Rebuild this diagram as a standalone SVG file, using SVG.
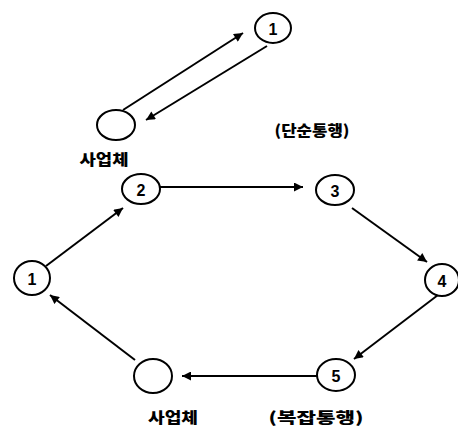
<svg xmlns="http://www.w3.org/2000/svg" width="458" height="430" viewBox="0 0 458 430">
<defs>
<marker id="ah" viewBox="0 0 10 10" refX="10" refY="5" markerWidth="11" markerHeight="9" markerUnits="userSpaceOnUse" orient="auto">
<path d="M0,0 L10,5 L0,10 z" fill="#000"/>
</marker>
<style>
.n{fill:#fff;stroke:#000;stroke-width:2}
.t{font-family:"Liberation Sans",Arial,sans-serif;font-weight:bold;font-size:16px;text-anchor:middle;dominant-baseline:central}
.k{font-family:"Noto Sans CJK KR",sans-serif;font-weight:900;font-size:15px;text-anchor:middle}
.c{stroke:#000;stroke-width:2;fill:none;marker-end:url(#ah)}
</style>
</defs>
<rect width="458" height="430" fill="#fff"/>
<g id="connectors">
<line class="c" x1="123" y1="110" x2="243" y2="33"/>
<line class="c" x1="267" y1="46" x2="146" y2="120"/>
<line class="c" x1="46" y1="266" x2="123" y2="208"/>
<line class="c" x1="160" y1="187" x2="303" y2="187"/>
<line class="c" x1="352" y1="208" x2="427" y2="262"/>
<line class="c" x1="438" y1="295" x2="354" y2="359"/>
<line class="c" x1="317" y1="376" x2="182" y2="376"/>
<line class="c" x1="135" y1="360" x2="50" y2="295"/>
</g>
<g id="top1"><ellipse class="n" cx="273" cy="28" rx="18" ry="15"/><text class="t" x="273" y="29">1</text></g>
<g id="top-biz"><ellipse class="n" cx="116" cy="125" rx="19" ry="15"/><text class="k" x="104" y="165" textLength="49" lengthAdjust="spacingAndGlyphs">사업체</text></g>
<g id="label-simple"><text class="k" x="312" y="136" textLength="75" lengthAdjust="spacingAndGlyphs">(단순통행)</text></g>
<g id="n2"><ellipse class="n" cx="141" cy="189" rx="19" ry="15"/><text class="t" x="141" y="190">2</text></g>
<g id="n3"><ellipse class="n" cx="335" cy="190" rx="19" ry="15"/><text class="t" x="335" y="191">3</text></g>
<g id="n1"><ellipse class="n" cx="32" cy="278" rx="18" ry="17"/><text class="t" x="32" y="279">1</text></g>
<g id="n4"><ellipse class="n" cx="442" cy="280" rx="17" ry="16"/><text class="t" x="442" y="281">4</text></g>
<g id="n5"><ellipse class="n" cx="336" cy="375" rx="19" ry="16"/><text class="t" x="336" y="376">5</text></g>
<g id="bottom-biz"><ellipse class="n" cx="153" cy="376" rx="19" ry="17"/><text class="k" x="173" y="423" textLength="50" lengthAdjust="spacingAndGlyphs">사업체</text></g>
<g id="label-complex"><text class="k" x="316" y="423" textLength="95" lengthAdjust="spacingAndGlyphs">(복잡통행)</text></g>
</svg>
